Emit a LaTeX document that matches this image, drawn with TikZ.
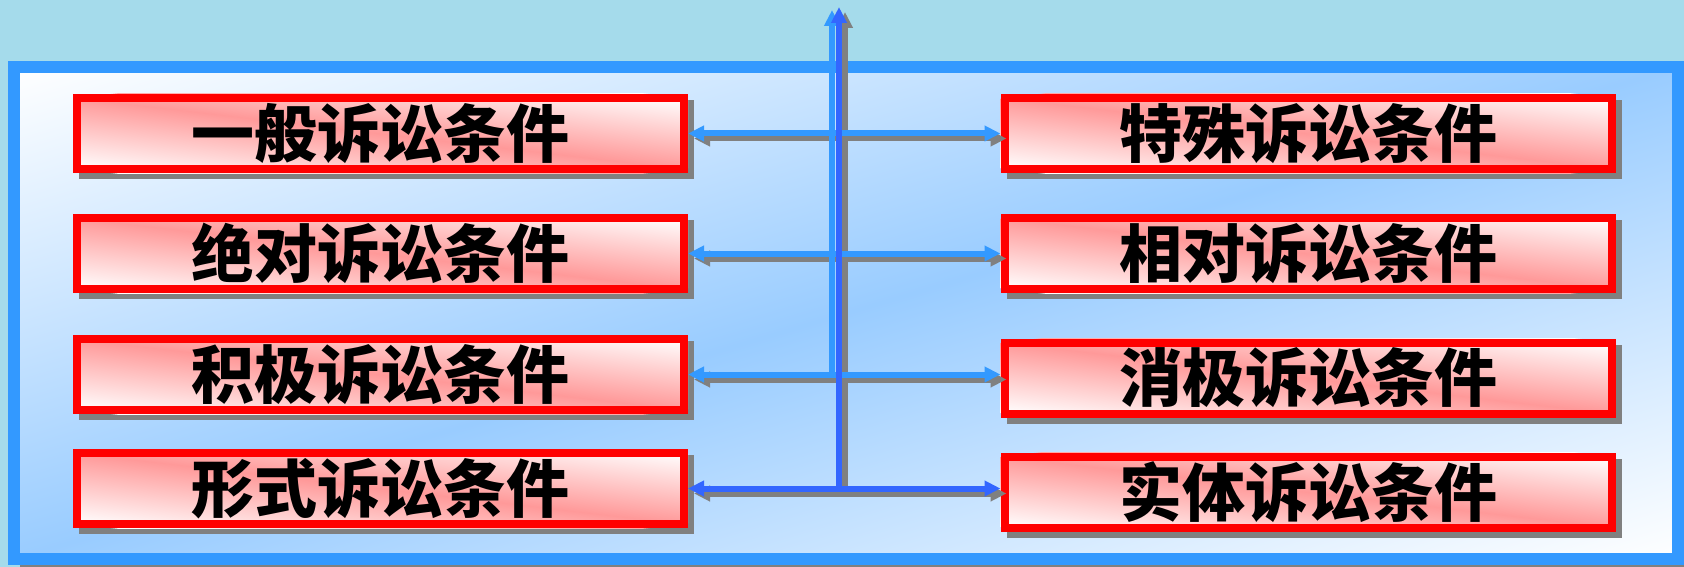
\documentclass[tikz,border=0pt]{standalone}
\usepackage{fontspec}
\newfontfamily\cjk{Noto Sans CJK SC}
\usetikzlibrary{arrows.meta,calc}
\definecolor{skyc}{HTML}{A5DBEB}
\definecolor{framec}{HTML}{3399FF}
\definecolor{innerc}{HTML}{99CCFF}
\definecolor{pinkc}{HTML}{FF9999}
\definecolor{shadowc}{HTML}{808080}
\definecolor{lightb}{HTML}{3399FF}
\definecolor{darkb}{HTML}{3366FF}
\pgfdeclarelayer{back}
\pgfdeclarelayer{boxfill}
\pgfsetlayers{back,boxfill,main}
\newcommand\myboxfill[1]{%
  \fill[shadowc] ($(#1.north west)+(6,6)$) rectangle ($(#1.south east)+(6,6)$);
  \begin{scope}
    \clip (#1.north west) rectangle (#1.south east);
    \begin{scope}[transform canvas={cm={2.1461,-0.2510,2.1461,0.2510,(#1.center)}}]
      \shade[top color=white, bottom color=white, middle color=pinkc]
        (-141.5pt,-141.5pt) rectangle (141.5pt,141.5pt);
    \end{scope}
  \end{scope}}
\begin{document}
\begin{tikzpicture}[x=1pt,y=-1pt,
  box/.style={rectangle, draw=red, line width=8pt, minimum width=607pt, minimum height=71pt,
    inner sep=0pt, font=\cjk\bfseries\fontsize{63pt}{63pt}\selectfont, text=black},
  >={Triangle[length=16pt,width=15pt]},
  conn/.style={line width=6pt},
  lightc/.style={conn, draw=lightb},
  darkc/.style={conn, draw=darkb},
  shadowline/.style={conn, draw=shadowc, transform canvas={shift={(6pt,-5pt)}}}
]
\useasboundingbox (0,0) rectangle (1684,567);
\begin{pgfonlayer}{back}
\fill[skyc] (0,0) rectangle (1684,567);
\fill[shadowc] (20,73) rectangle (1690,573);
\begin{scope}
  \clip (14,67) rectangle (1678,559);
  \begin{scope}[transform canvas={cm={5.8831,1.7395,-5.8831,1.7395,(846,313)}}]
    \shade[top color=white, bottom color=white, middle color=innerc]
      (-141.5pt,-141.5pt) rectangle (141.5pt,141.5pt);
  \end{scope}
\end{scope}
\draw[framec, line width=12pt] (14,67) rectangle (1678,559);
\end{pgfonlayer}
% boxes
\node[box] (l1) at (380.5,133.5) {\raisebox{-19pt}{一般诉讼条件}};
\node[box] (l2) at (380.5,253.5) {\raisebox{-19pt}{绝对诉讼条件}};
\node[box] (l3) at (380.5,374.5) {\raisebox{-19pt}{积极诉讼条件}};
\node[box] (l4) at (380.5,488.5) {\raisebox{-19pt}{形式诉讼条件}};
\node[box] (r1) at (1308,133.5) {\raisebox{-19pt}{特殊诉讼条件}};
\node[box] (r2) at (1308,253.5) {\raisebox{-19pt}{相对诉讼条件}};
\node[box] (r3) at (1308,378) {\raisebox{-19pt}{消极诉讼条件}};
\node[box] (r4) at (1308,492) {\raisebox{-19pt}{实体诉讼条件}};
\begin{pgfonlayer}{boxfill}
\foreach \b in {l1,l2,l3,l4,r1,r2,r3,r4} {\myboxfill{\b}}
\end{pgfonlayer}
% spine tops
\coordinate (topd) at (839,7);
\coordinate (topl) at (832,10);
% shadows
\foreach \a/\b in {l1/r1,l2/r2,l3/r3,l4/r4}
  \draw[shadowline,<->] (\a.east) -- (\a.east -| \b.west);
\draw[shadowline,->] (l4.east -| topd) -- (topd);
% light connectors
\foreach \a/\b in {l1/r1,l2/r2,l3/r3}
  \draw[lightc,<->] (\a.east) -- (\a.east -| \b.west);
\draw[lightc,->] (l3.east -| topl) -- (topl);
% dark connectors
\draw[darkc,<->] (l4.east) -- (l4.east -| r4.west);
\draw[darkc,->] (l4.east -| topd) -- (topd);
\end{tikzpicture}
\end{document}
